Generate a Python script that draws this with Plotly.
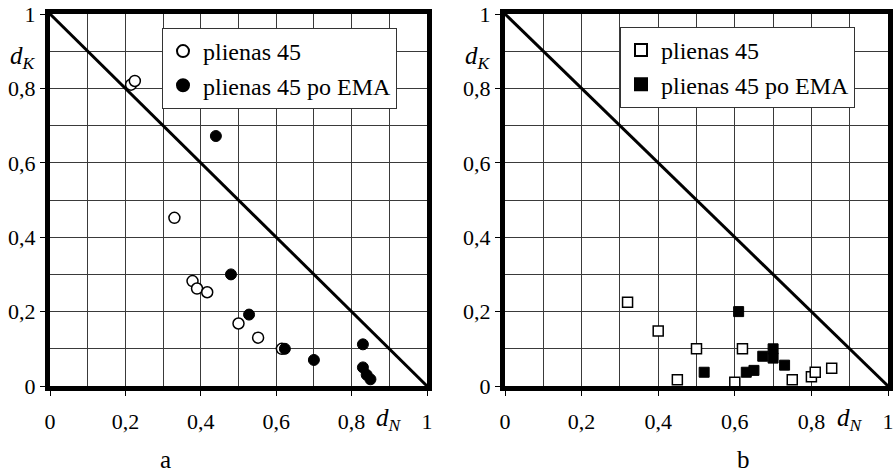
import plotly.graph_objects as go

# ---- data ----
a_open_x = [0.215, 0.225, 0.33, 0.378, 0.39, 0.417, 0.50, 0.552, 0.615]
a_open_y = [0.810, 0.820, 0.452, 0.282, 0.262, 0.252, 0.168, 0.130, 0.100]
a_fill_x = [0.44, 0.48, 0.528, 0.623, 0.70, 0.83, 0.83, 0.84, 0.85]
a_fill_y = [0.672, 0.300, 0.192, 0.100, 0.070, 0.112, 0.050, 0.030, 0.018]

b_open_x = [0.32, 0.40, 0.50, 0.62, 0.45, 0.60, 0.75, 0.80, 0.81, 0.853]
b_open_y = [0.225, 0.148, 0.100, 0.100, 0.017, 0.010, 0.017, 0.025, 0.037, 0.048]
b_fill_x = [0.61, 0.52, 0.63, 0.65, 0.673, 0.70, 0.70, 0.73]
b_fill_y = [0.200, 0.037, 0.037, 0.042, 0.080, 0.100, 0.075, 0.056]

diag_x = [0, 1]
diag_y = [1, 0]

tick_vals = [0, 0.2, 0.4, 0.6, 0.8, 1.0]
tick_text = ["0", "0,2", "0,4", "0,6", "0,8", "1"]
series_names = ["plienas 45", "plienas 45 po EMA"]
panel_labels = ["a", "b"]

FONT = "Liberation Serif"
W, H = 895, 475

fig = go.Figure()

# panel a
fig.add_trace(go.Scatter(x=diag_x, y=diag_y, mode="lines", line=dict(color="black", width=3),
                         showlegend=False, xaxis="x", yaxis="y", hoverinfo="skip"))
fig.add_trace(go.Scatter(x=a_open_x, y=a_open_y, mode="markers", name=series_names[0],
                         marker=dict(symbol="circle", size=11, color="white", line=dict(color="black", width=1.5)),
                         xaxis="x", yaxis="y", legend="legend", legendgroup="a1", cliponaxis=False))
fig.add_trace(go.Scatter(x=a_fill_x, y=a_fill_y, mode="markers", name=series_names[1],
                         marker=dict(symbol="circle", size=11, color="black", line=dict(color="black", width=1)),
                         xaxis="x", yaxis="y", legend="legend", legendgroup="a2", cliponaxis=False))
# panel b
fig.add_trace(go.Scatter(x=diag_x, y=diag_y, mode="lines", line=dict(color="black", width=3),
                         showlegend=False, xaxis="x2", yaxis="y2", hoverinfo="skip"))
fig.add_trace(go.Scatter(x=b_open_x, y=b_open_y, mode="markers", name=series_names[0],
                         marker=dict(symbol="square", size=10, color="white", line=dict(color="black", width=1.5)),
                         xaxis="x2", yaxis="y2", legend="legend2", legendgroup="b1", cliponaxis=False))
fig.add_trace(go.Scatter(x=b_fill_x, y=b_fill_y, mode="markers", name=series_names[1],
                         marker=dict(symbol="square", size=10, color="black", line=dict(color="black", width=1)),
                         xaxis="x2", yaxis="y2", legend="legend2", legendgroup="b2", cliponaxis=False))

def ax(domain, anchor, standoff):
    return dict(
        domain=domain, anchor=anchor, range=[0, 1],
        tickmode="array", tickvals=tick_vals, ticktext=tick_text,
        ticks="outside", ticklen=5, tickwidth=1, tickcolor="black",
        ticklabelstandoff=standoff,
        showline=True, linewidth=5, linecolor="black", mirror=True,
        showgrid=True, gridcolor="#3a3a3a", gridwidth=1,
        minor=dict(tickmode="linear", tick0=0, dtick=0.1, showgrid=True,
                   gridcolor="#3a3a3a", gridwidth=1, ticks=""),
        zeroline=False, fixedrange=True, automargin=False,
        tickfont=dict(family=FONT, size=22, color="black"),
    )

ydom = [1 - 386 / H, 1 - 14 / H]
xdom_a = [50 / W, 427 / W]
xdom_b = [505 / W, 888 / W]

legend_style = dict(
    font=dict(family=FONT, size=24, color="black"),
    bgcolor="white", bordercolor="#333", borderwidth=1,
    xanchor="left", yanchor="top", tracegroupgap=0, itemsizing="constant",
)

fig.update_layout(
    width=W, height=H, autosize=False,
    margin=dict(l=0, r=0, t=0, b=0),
    paper_bgcolor="white", plot_bgcolor="white",
    separators=", ",
    font=dict(family=FONT, color="black"),
    xaxis=ax(xdom_a, "y", 7), yaxis=ax(ydom, "x", 0),
    xaxis2=ax(xdom_b, "y2", 7), yaxis2=ax(ydom, "x2", 0),
    legend=dict(x=162 / W, y=1 - 28 / H, **legend_style),
    legend2=dict(x=620 / W, y=1 - 27 / H, **legend_style),
)

def px(dom, f):
    return dom[0] + f * (dom[1] - dom[0])

ann_font = dict(family=FONT, size=25, color="black")
for xd in [xdom_a, xdom_b]:
    fig.add_annotation(x=px(xd, 0.9), y=1 - 419 / H, xref="paper", yref="paper",
                       xanchor="center", yanchor="middle",
                       text="<i>d</i><sub><i>N</i></sub>", showarrow=False, font=ann_font)
    fig.add_annotation(x=xd[0] - 27 / W, y=1 - 58 / H, xref="paper", yref="paper",
                       xanchor="center", yanchor="middle",
                       text="<i>d</i><sub><i>K</i></sub>", showarrow=False, font=ann_font)
for lab, xp in zip(panel_labels, [165, 743]):
    fig.add_annotation(x=xp / W, y=0, xref="paper", yref="paper", text=lab,
                       xanchor="center", yanchor="bottom",
                       showarrow=False, font=dict(family=FONT, size=25, color="black"))

fig.write_html("out.html")
